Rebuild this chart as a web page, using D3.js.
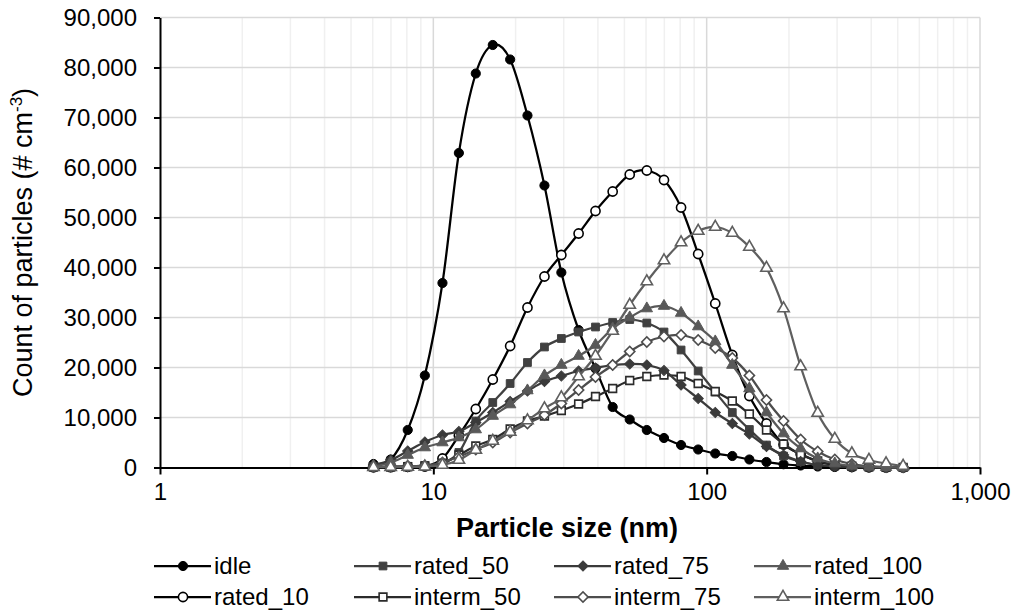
<!DOCTYPE html>
<html>
<head>
<meta charset="utf-8">
<script src="https://cdn.jsdelivr.net/npm/d3@7"></script>
<style>
  body { margin: 0; background: #fff; }
  svg text { font-family: "Liberation Sans", Arial, sans-serif; fill: #000; }
</style>
</head>
<body>
<svg id="chart" width="1013" height="610"></svg>
<script>
// EEPS size bins (nm)
const sizes = [6.04, 6.98, 8.06, 9.31, 10.8, 12.4, 14.3, 16.5, 19.1, 22.1, 25.5, 29.4, 34.0, 39.2, 45.3, 52.3,
  60.4, 69.8, 80.6, 93.1, 107.5, 124.1, 143.3, 165.5, 191.1, 220.7, 254.8, 294.3, 339.8, 392.4, 453.2, 523.3]

const idle = [700, 1600, 7500, 18400, 36900, 62900, 78800, 84500, 81600, 70400, 56400, 39000, 27500, 19800, 12100, 9600,
  7500, 5900, 4500, 3600, 2800, 2300, 1600, 1100, 650, 400, 200, 100, 50, 30, 10, 5]
const rated_10 = [50, 80, 150, 200, 1800, 6400, 11700, 17600, 24300, 32000, 38200, 42500, 46800, 51300, 55200, 58600,
  59400, 57500, 52000, 42700, 32800, 22500, 14300, 8800, 4600, 2700, 1200, 500, 200, 80, 30, 10]
const rated_50 = [100, 150, 250, 400, 900, 3000, 9300, 13000, 16800, 21000, 24100, 25800, 27100, 28100, 29000, 29600,
  28900, 27100, 23500, 19300, 15100, 11000, 7600, 4500, 2300, 1200, 500, 250, 120, 60, 30, 10]
const interm_50 = [100, 100, 150, 300, 800, 2500, 4300, 5600, 7700, 9300, 10300, 11400, 12700, 14200, 15800, 17400,
  18200, 18500, 18200, 16800, 15200, 13300, 10700, 7500, 4700, 2600, 1300, 500, 250, 120, 50, 20]
const rated_75 = [500, 1500, 3300, 5100, 6500, 7200, 9000, 11000, 13200, 15300, 17200, 18300, 19300, 19900, 20500, 20700,
  20500, 19400, 16500, 13800, 11000, 8800, 6700, 4200, 2500, 1200, 500, 250, 120, 60, 30, 10]
const interm_75 = [100, 150, 250, 400, 1000, 2200, 3600, 5000, 7000, 8800, 10500, 12800, 15500, 18100, 20500, 23200,
  25100, 26200, 26500, 25500, 23900, 21900, 18400, 13500, 9300, 5600, 3200, 1600, 700, 300, 100, 50]
const rated_100 = [200, 1000, 2500, 4000, 5000, 6000, 7600, 10300, 12600, 15400, 18400, 20500, 22300, 24500, 27800, 30000,
  31800, 32300, 30900, 28200, 25200, 20500, 15800, 11000, 6800, 3800, 1800, 800, 350, 150, 60, 20]
const interm_100 = [50, 80, 100, 150, 500, 1500, 3500, 5300, 7100, 9400, 11800, 14000, 18200, 22300, 27300, 32500,
  37200, 41400, 45000, 47300, 48100, 46900, 44100, 39900, 31800, 20200, 10900, 5700, 2800, 1500, 800, 300]

const yTicks = [0, 10000, 20000, 30000, 40000, 50000, 60000, 70000, 80000, 90000]
const xTicks = [1, 10, 100, 1000]

// drawing order (Excel series order)
const series = [
  {name: 'idle', values: idle, color: '#000000', shape: 'circle', open: false},
  {name: 'rated_10', values: rated_10, color: '#000000', shape: 'circle', open: true},
  {name: 'rated_50', values: rated_50, color: '#404040', shape: 'square', open: false},
  {name: 'interm_50', values: interm_50, color: '#2b2b2b', shape: 'square', open: true},
  {name: 'rated_75', values: rated_75, color: '#3a3a3a', shape: 'diamond', open: false},
  {name: 'interm_75', values: interm_75, color: '#4d4d4d', shape: 'diamond', open: true},
  {name: 'rated_100', values: rated_100, color: '#595959', shape: 'triangle', open: false},
  {name: 'interm_100', values: interm_100, color: '#5f5f5f', shape: 'triangle', open: true}
]
const legendOrder = ['idle', 'rated_50', 'rated_75', 'rated_100', 'rated_10', 'interm_50', 'interm_75', 'interm_100']

const svg = d3.select('#chart')
const x = d3.scaleLog().domain([1, 1000]).range([160, 980])
const y = d3.scaleLinear().domain([0, 90000]).range([467.5, 17.5])

// minor vertical gridlines
let minor = []
;[1, 10, 100].forEach(dec => {
  for (let k = 2; k <= 9; k++) minor.push(dec * k)
})
svg.append('g').selectAll('line')
  .data(minor)
  .enter().append('line')
  .attr('x1', d => x(d)).attr('x2', d => x(d))
  .attr('y1', y(90000)).attr('y2', y(0))
  .attr('stroke', '#f0f0f0')
  .attr('stroke-width', 1.5)

// major gridlines
svg.append('g').selectAll('line')
  .data(xTicks.slice(1))
  .enter().append('line')
  .attr('x1', d => x(d)).attr('x2', d => x(d))
  .attr('y1', y(90000)).attr('y2', y(0))
  .attr('stroke', '#d9d9d9')
  .attr('stroke-width', 1.5)
svg.append('g').selectAll('line')
  .data(yTicks.slice(1))
  .enter().append('line')
  .attr('x1', x(1)).attr('x2', x(1000))
  .attr('y1', d => y(d)).attr('y2', d => y(d))
  .attr('stroke', '#d9d9d9')
  .attr('stroke-width', 1.5)

// axes
const yAxis = svg.append('g')
  .attr('transform', 'translate(' + x(1) + ',0)')
  .call(d3.axisLeft(y).tickValues(yTicks).tickFormat(d3.format(',')).tickSize(6).tickSizeOuter(0).tickPadding(17))
const xAxis = svg.append('g')
  .attr('transform', 'translate(0,' + y(0) + ')')
  .call(d3.axisBottom(x).tickValues(xTicks).tickFormat(d3.format(',')).tickSize(7).tickSizeOuter(0).tickPadding(8))
;[yAxis, xAxis].forEach(a => {
  a.selectAll('path, line').attr('stroke', '#000').attr('stroke-width', 2)
  a.selectAll('text').attr('font-size', '24px').attr('fill', '#000')
    .style('font-family', '"Liberation Sans", Arial, sans-serif')
})

// axis titles
svg.append('text')
  .attr('x', 567).attr('y', 537)
  .attr('text-anchor', 'middle')
  .attr('font-size', '27px')
  .attr('font-weight', 'bold')
  .text('Particle size (nm)')

const yTitle = svg.append('text')
  .attr('transform', 'translate(32,' + ((y(0) + y(90000)) / 2) + ') rotate(-90)')
  .attr('text-anchor', 'middle')
  .attr('font-size', '27px')
yTitle.append('tspan').text('Count of particles (# cm')
yTitle.append('tspan').attr('font-size', '17px').attr('dy', -10).text('-3')
yTitle.append('tspan').attr('dy', 10).text(')')

// markers
const shapes = {
  circle: d3.symbol().type(d3.symbolCircle).size(66),
  square: d3.symbol().type(d3.symbolSquare).size(60),
  diamond: d3.symbol().type(d3.symbolSquare).size(52),
  triangle: d3.symbol().type(d3.symbolTriangle).size(56)
}
function marker(g, s, px, py) {
  g.append('path')
    .attr('d', shapes[s.shape]())
    .attr('transform', 'translate(' + px + ',' + py + ')' + (s.shape === 'diamond' ? ' rotate(45)' : ''))
    .attr('fill', s.open ? '#fff' : s.color)
    .attr('stroke', s.color)
    .attr('stroke-width', s.open ? 1.6 : 1)
}

const line = d3.line()
  .x((d, i) => x(sizes[i]))
  .y(d => y(d))
  .curve(d3.curveCatmullRom.alpha(0))

series.forEach(s => {
  const g = svg.append('g')
  g.append('path')
    .datum(s.values)
    .attr('fill', 'none')
    .attr('stroke', s.color)
    .attr('stroke-width', 2.25)
    .attr('stroke-linejoin', 'round')
    .attr('d', line)
  s.values.forEach((v, i) => marker(g, s, x(sizes[i]), y(v)))
})

// legend
legendOrder.forEach((name, i) => {
  const s = series.find(d => d.name === name)
  const col = i % 4, row = Math.floor(i / 4)
  const tx = 214 + col * 200, ty = 566 + row * 31
  const g = svg.append('g')
  g.append('line')
    .attr('x1', tx - 60).attr('x2', tx - 3)
    .attr('y1', ty).attr('y2', ty)
    .attr('stroke', s.color)
    .attr('stroke-width', 2.25)
  marker(g, s, tx - 31, ty)
  g.append('text')
    .attr('x', tx).attr('y', ty + 8)
    .attr('font-size', '24px')
    .text(name)
})
</script>
</body>
</html>
